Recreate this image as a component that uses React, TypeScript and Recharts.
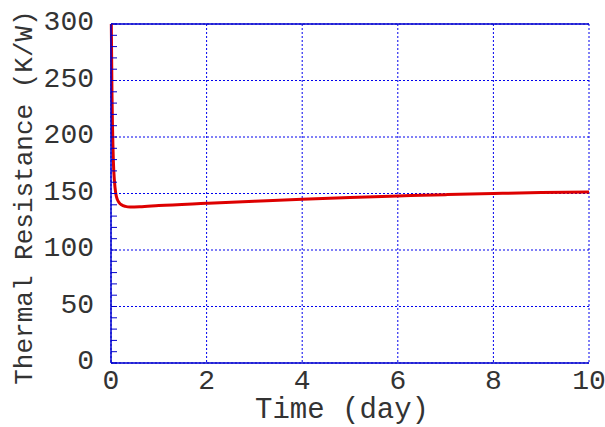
import { LineChart, Line, XAxis, YAxis, CartesianGrid, ReferenceLine } from "recharts";

const days = [0, 0.01, 0.02, 0.03, 0.04, 0.05, 0.07, 0.1, 0.13, 0.17, 0.22, 0.3, 0.4, 0.6, 1, 2, 3, 4, 5, 6, 7, 8, 9, 10];
const resistance = [330, 285, 240, 212, 193, 178, 162, 150, 145, 142, 140, 138.6, 138, 138.2, 139.3, 141.3, 143.2, 145, 146.5, 147.8, 149, 150, 150.8, 151.3];
const xTicks = [0, 2, 4, 6, 8, 10];
const yMajor = [0, 50, 100, 150, 200, 250, 300];
const yMinor = [0, 10, 20, 30, 40, 50, 60, 70, 80, 90, 100, 110, 120, 130, 140, 150, 160, 170, 180, 190, 200, 210, 220, 230, 240, 250, 260, 270, 280, 290, 300];

const data = days.map((d, i) => ({ d, r: resistance[i] }));

const FONT = "'Liberation Mono', 'DejaVu Sans Mono', monospace";
const AXIS = "#0000cc";
const GRID = "#0000ee";
const TEXT = "#333";

const LeftTick = (props: any) => {
  const { x, y, payload } = props;
  const v = payload.value;
  return (
    <g>
      <line x1={x + 17} x2={x + 23} y1={y} y2={y} stroke={AXIS} strokeWidth={1} />
      {v % 50 === 0 && (
        <text x={x} y={y} dy={6} textAnchor="end" fontFamily={FONT} fontSize={28} fill={TEXT}>
          {v}
        </text>
      )}
    </g>
  );
};

const RightTick = (props: any) => {
  const { x, y } = props;
  return <line x1={x} x2={x - 6} y1={y} y2={y} stroke={AXIS} strokeWidth={1} />;
};

export default function App() {
  return (
    <div style={{ position: "absolute", left: 0, top: 0, background: "#fff" }}>
      <LineChart width={605} height={427} data={data} margin={{ top: 24, right: 16, bottom: 0, left: 0 }}>
        <CartesianGrid
          yAxisId="l"
          stroke={GRID}
          strokeDasharray="2 2"
          horizontalValues={yMajor}
          verticalValues={xTicks}
        />
        <XAxis
          dataKey="d"
          type="number"
          domain={[0, 10]}
          ticks={xTicks}
          height={64}
          tickSize={0}
          tickMargin={6}
          axisLine={{ stroke: AXIS, strokeWidth: 1.5 }}
          tick={{ fontFamily: FONT, fontSize: 28, fill: TEXT }}
          label={{
            content: ({ viewBox }: any) => (
              <text
                x={viewBox.x + viewBox.width / 2 - 8}
                y={viewBox.y + 55}
                textAnchor="middle"
                fontFamily={FONT}
                fontSize={29}
                fill={TEXT}
              >
                Time (day)
              </text>
            ),
          }}
        />
        <YAxis
          yAxisId="l"
          type="number"
          domain={[0, 300]}
          ticks={yMinor}
          interval={0}
          allowDataOverflow
          width={111}
          tickSize={0}
          tickMargin={17}
          tickLine={false}
          axisLine={{ stroke: AXIS, strokeWidth: 1.5 }}
          tick={<LeftTick />}
          label={{
            content: ({ viewBox }: any) => (
              <text
                x={25}
                y={viewBox.y + viewBox.height / 2 + 4}
                transform={`rotate(-90, 25, ${viewBox.y + viewBox.height / 2 + 4})`}
                textAnchor="middle"
                dominantBaseline="central"
                fontFamily={FONT}
                fontSize={26}
                fill={TEXT}
              >
                Thermal Resistance (K/W)
              </text>
            ),
          }}
        />
        <YAxis
          yAxisId="r"
          orientation="right"
          type="number"
          domain={[0, 300]}
          ticks={yMinor}
          interval={0}
          allowDataOverflow
          width={0}
          tickSize={0}
          tickMargin={0}
          tickLine={false}
          axisLine={{ stroke: AXIS, strokeWidth: 1.5 }}
          tick={<RightTick />}
        />
        <ReferenceLine yAxisId="l" y={300} stroke={AXIS} strokeWidth={1.5} />
        <Line
          yAxisId="l"
          type="monotone"
          dataKey="r"
          stroke="#dd0000"
          strokeWidth={3}
          dot={false}
          isAnimationActive={false}
        />
      </LineChart>
    </div>
  );
}
